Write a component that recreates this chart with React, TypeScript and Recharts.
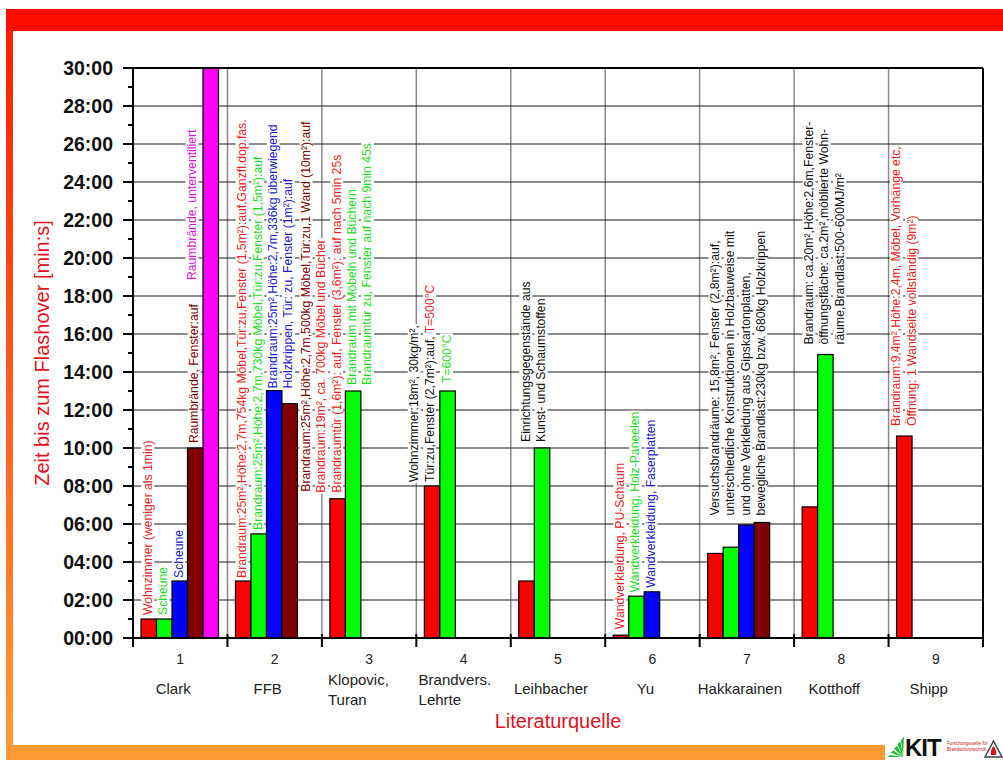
import React from 'react';
import { BarChart, Bar, XAxis, YAxis, CartesianGrid, ReferenceLine } from 'recharts';

// Flashover-Zeiten je Literaturquelle (Minuten)
const categories = ['1', '2', '3', '4', '5', '6', '7', '8', '9'];
const sources = [
  ['Clark'],
  ['FFB'],
  ['Klopovic,', 'Turan'],
  ['Brandvers.', 'Lehrte'],
  ['Leihbacher'],
  ['Yu'],
  ['Hakkarainen'],
  ['Kotthoff'],
  ['Shipp'],
];
const redValues = [1, 3, 7.33, 8, 3, 0.15, 4.45, 6.9, 10.63];
const greenValues = [1, 5.48, 13, 13, 10, 2.2, 4.78, 14.92, null];
const blueValues = [3, 13.02, null, null, null, 2.43, 5.95, null, null];
const maroonValues = [10, 12.33, null, null, null, null, 6.08, null, null];
const magentaValues = [30, null, null, null, null, null, null, null, null];
const yTicks = [0, 1, 2, 3, 4, 5, 6, 7, 8, 9, 10, 11, 12, 13, 14, 15, 16, 17, 18, 19, 20, 21, 22, 23, 24, 25, 26, 27, 28, 29, 30];
const gridValues = [0, 2, 4, 6, 8, 10, 12, 14, 16, 18, 20, 22, 24, 26, 28, 30];

const seriesKeys = ['red', 'green', 'blue', 'maroon', 'magenta'];
const seriesColors: Record<string, string> = {
  red: '#ff0000',
  green: '#00ff00',
  blue: '#0000ff',
  maroon: '#800000',
  magenta: '#ff00ff',
};
const textColors: Record<string, string> = {
  r: '#ee1c24',
  g: '#1fdc1f',
  b: '#1a1ad0',
  m: '#800000',
  p: '#e010e0',
  k: '#111111',
};

// annotation texts: category index, anchor series, lines of [colour, text] segments
const notes = [
  { cat: 0, key: 'red', lines: [[['r', 'Wohnzimmer (weniger als 1min)']]] },
  { cat: 0, key: 'green', lines: [[['g', 'Scheune']]] },
  { cat: 0, key: 'blue', lines: [[['b', 'Scheune']]] },
  { cat: 0, key: 'maroon', lines: [[['m', 'Raumbrände, Fenster:auf']]] },
  { cat: 0, key: 'magenta', lines: [[['p', 'Raumbrände, unterventiliert']]] },
  { cat: 1, key: 'red', lines: [[['r', 'Brandraum:25m²,Höhe:2,7m,754kg Möbel,Tür:zu,Fenster (1,5m²):auf,Ganzfl.dop.fas.']]] },
  { cat: 1, key: 'green', lines: [[['g', 'Brandraum:25m²,Höhe:2,7m,730kg Möbel,Tür:zu,Fenster (1,5m²):auf']]] },
  {
    cat: 1,
    key: 'blue',
    lines: [[['b', 'Brandraum:25m²,Höhe:2,7m,336kg überwiegend']], [['b', 'Holzkrippen, Tür: zu, Fenster (1m²):auf']]],
  },
  { cat: 1, key: 'maroon', lines: [[['m', 'Brandraum:25m²,Höhe:2,7m,500kg Möbel,Tür:zu,1 Wand (10m²):auf']]] },
  {
    cat: 2,
    key: 'red',
    lines: [
      [['r', 'Brandraum:19m², ca. 700kg Möbel und Bücher']],
      [['r', 'Brandraumtür (1,6m²): auf, Fenster (3,6m²): auf nach 5min 25s']],
    ],
  },
  {
    cat: 2,
    key: 'green',
    lines: [[['g', 'Brandraum mit Möbeln und Büchern']], [['g', 'Brandraumtür zu, Fenster auf nach 9min 45s']]],
  },
  {
    cat: 3,
    key: 'red',
    lines: [[['k', 'Wohnzimmer:18m², 30kg/m²,']], [['k', 'Tür:zu,Fenster (2,7m²):auf, '], ['r', 'T=500°C']]],
  },
  { cat: 3, key: 'green', lines: [[['g', 'T=600°C']]] },
  { cat: 4, key: 'green', lines: [[['k', 'Einrichtungsgegenstände aus']], [['k', 'Kunst- und Schaumstoffen']]] },
  { cat: 5, key: 'red', lines: [[['r', 'Wandverkleidung, PU-Schaum']]] },
  { cat: 5, key: 'green', lines: [[['g', 'Wandverkleidung, Holz-Paneelen']]] },
  { cat: 5, key: 'blue', lines: [[['b', 'Wandverkleidung, Faserplatten']]] },
  {
    cat: 6,
    key: 'maroon',
    lines: [
      [['k', 'Versuchsbrandräume: 15,8m², Fenster (2,8m²):auf,']],
      [['k', 'unterschiedliche Konstruktionen in Holzbauweise mit']],
      [['k', 'und ohne Verkleidung aus Gipskartonplatten,']],
      [['k', 'bewegliche Brandlast:230kg bzw. 680kg Holzkrippen']],
    ],
  },
  {
    cat: 7,
    key: 'green',
    lines: [
      [['k', 'Brandraum: ca.20m²,Höhe:2,6m,Fenster-']],
      [['k', 'öffnungsfläche: ca.2m²,möblierte Wohn-']],
      [['k', 'räume,Brandlast:500-600MJ/m²']],
    ],
  },
  {
    cat: 8,
    key: 'red',
    lines: [[['r', 'Brandraum:9,4m²,Höhe:2,4m, Möbel, Vorhänge etc,']], [['r', 'Öffnung: 1 Wandseite vollständig (9m²)']]],
  },
];

// placement of each annotation: [shift in text lines, gap above bar top in px]
const notePlacement: Record<string, [number, number]> = {
  '0-red': [0, 4],
  '0-green': [0, 4],
  '0-blue': [0, 3],
  '0-maroon': [0, 5],
  '0-magenta': [-1.16, -212],
  '1-red': [0, 3],
  '1-green': [0, 4],
  '1-blue': [0, 2],
  '1-maroon': [1.13, -88],
  '2-red': [-1, 6],
  '2-green': [0, 6],
  '3-red': [-1.1, 4],
  '3-green': [0, 8],
  '4-green': [-1, 6],
  '5-red': [0, 6],
  '5-green': [0, 4],
  '5-blue': [0, 4],
  '6-maroon': [-3, 7],
  '7-green': [-1, 10],
  '8-red': [-0.45, 10],
};

const FONT = "Arial, 'Liberation Sans', sans-serif";
const NOTE_SIZE = 12.2;
const LINE_STEP = 15.3;
const TITLE_RED = '#e3101f';

const data = categories.map((cat, i) => ({
  cat,
  red: redValues[i],
  green: greenValues[i],
  blue: blueValues[i],
  maroon: maroonValues[i],
  magenta: magentaValues[i],
}));

const noteMap: Record<string, any> = {};
notes.forEach((n) => {
  noteMap[`${n.cat}-${n.key}`] = n;
});

// text width, for the white box the slide draws behind each annotation line
let measureCtx: CanvasRenderingContext2D | null = null;
const textWidth = (s: string) => {
  if (!measureCtx) {
    measureCtx = document.createElement('canvas').getContext('2d');
  }
  if (!measureCtx) return s.length * NOTE_SIZE * 0.5;
  measureCtx.font = `${NOTE_SIZE}px Arial, 'Liberation Sans', sans-serif`;
  return measureCtx.measureText(s).width;
};

const renderNote = (id: string, cx: number, top: number) => {
  const note = noteMap[id];
  if (!note) return null;
  const [shift, gap] = notePlacement[id] || [0, 4];
  const base = top - gap;
  return note.lines.map((segs: string[][], i: number) => {
    const w = textWidth(segs.map((s) => s[1]).join(''));
    return (
      <g key={i} transform={`translate(${cx - 1 + (shift + i) * LINE_STEP},${base}) rotate(-90)`}>
        <rect x={-1} y={-6.5} width={w + 2} height={13} fill="#ffffff" />
        <text fontSize={NOTE_SIZE} fontFamily={FONT} dominantBaseline="central">
          {segs.map(([c, t], j) => (
            <tspan key={j} fill={textColors[c]}>
              {t}
            </tspan>
          ))}
        </text>
      </g>
    );
  });
};

// custom bar: rectangle plus the annotation anchored on it
const makeShape = (key: string) => (props: any) => {
  const { x, y, width, height, payload } = props;
  if (!payload || payload[key] == null) return <g />;
  const cat = categories.indexOf(payload.cat);
  return (
    <g>
      <rect x={x} y={y} width={width} height={height} fill={seriesColors[key]} stroke="#000" strokeWidth={1.2} />
      {renderNote(`${cat}-${key}`, x + width / 2, y)}
    </g>
  );
};

const formatMinutes = (v: number) => `${String(v).padStart(2, '0')}:00`;

const YTick = (props: any) => {
  const { x, y, payload } = props;
  const v = payload.value;
  const major = v % 2 === 0;
  return (
    <g>
      <line x1={x - (major ? 10 : 5)} x2={x} y1={y} y2={y} stroke="#000" strokeWidth={2} />
      {major && (
        <text
          x={x - 20}
          y={y}
          textAnchor="end"
          dominantBaseline="central"
          fontFamily={FONT}
          fontWeight="bold"
          fontSize={19.5}
          fill="#111"
        >
          {formatMinutes(v)}
        </text>
      )}
    </g>
  );
};

const XTick = (props: any) => {
  const { x, y, payload, index, width } = props;
  const half = (width || 850) / categories.length / 2;
  const name = sources[index] || [];
  const isLast = index === categories.length - 1;
  const longest = Math.max(...name.map((s) => s.length));
  return (
    <g>
      <line x1={x - half} x2={x - half} y1={y - 4} y2={y + 9} stroke="#000" strokeWidth={2} />
      {isLast && <line x1={x + half} x2={x + half} y1={y - 4} y2={y + 9} stroke="#000" strokeWidth={2} />}
      <text x={x} y={y + 21} textAnchor="middle" dominantBaseline="central" fontFamily={FONT} fontSize={14} fill="#222">
        {payload.value}
      </text>
      {name.length === 1 ? (
        <text x={x - 7} y={y + 50} textAnchor="middle" dominantBaseline="central" fontFamily={FONT} fontSize={15} fill="#222">
          {name[0]}
        </text>
      ) : (
        name.map((line, i) => (
          <text
            key={i}
            x={x - 6 - longest * 0.26 * 15}
            y={y + 41 + i * 20}
            dominantBaseline="central"
            fontFamily={FONT}
            fontSize={15}
            fill="#222"
          >
            {line}
          </text>
        ))
      )}
    </g>
  );
};

// category separators at the band edges
const separatorGenerator = (props: any) => {
  const { offset, width } = props;
  const plotW = offset.width ?? width - offset.left - offset.right;
  return categories.slice(1).map((_, i) => offset.left + ((i + 1) * plotW) / categories.length);
};

const KitLogo = () => (
  <svg width={118} height={27} style={{ position: 'absolute', left: 885, top: 733 }}>
    {[0, 1, 2, 3, 4].map((i) => (
      <path
        key={i}
        d={`M18 24 L${2 + i * 3.5} ${24 - i * 4.2} L${5 + i * 3.5} ${22 - i * 4.6} Z`}
        fill="#1fbf3a"
      />
    ))}
    <text x={20} y={23} fontFamily={FONT} fontWeight="bold" fontSize={24} fill="#111" letterSpacing={-1}>
      KIT
    </text>
    <text x={62} y={12} fontFamily={FONT} fontSize={4.5} fill="#d01020">
      Forschungsstelle für
    </text>
    <text x={62} y={18} fontFamily={FONT} fontSize={4.5} fill="#d01020">
      Brandschutztechnik
    </text>
    <path d="M100 24 L108.5 8 L117 24 Z" fill="#fff" stroke="#444" strokeWidth={1.5} />
    <path d="M106 22 Q105 17 108.5 13 Q112 17 111 22 Z" fill="#e01010" />
  </svg>
);

const App: React.FC = () => {
  return (
    <div
      style={{
        position: 'absolute',
        left: 0,
        top: 0,
        width: 1003,
        height: 760,
        background: '#ffffff',
        overflow: 'hidden',
      }}
    >
      <div style={{ position: 'absolute', left: 6, top: 9, width: 997, height: 22, background: '#ff0e00' }} />
      <div
        style={{
          position: 'absolute',
          left: 6,
          top: 31,
          width: 7,
          height: 714,
          background: 'linear-gradient(#ff1e00, #ff9a38)',
        }}
      />
      <div style={{ position: 'absolute', left: 6, top: 745, width: 879, height: 15, background: '#ff9933' }} />
      <div style={{ position: 'absolute', left: 0, top: 0 }}>
        <BarChart
          width={1003}
          height={760}
          data={data}
          margin={{ top: 68, right: 20, left: 42, bottom: 30 }}
          barGap={0}
          barSize={15.5}
        >
          <CartesianGrid horizontal={false} vertical verticalCoordinatesGenerator={separatorGenerator} stroke="#8a8a8a" strokeWidth={1.5} />
          <CartesianGrid horizontal vertical={false} horizontalValues={gridValues} stroke="#1a1a1a" strokeWidth={1.2} />
          <ReferenceLine x="9" position="end" stroke="#000" strokeWidth={2} />
          <ReferenceLine y={30} stroke="#000" strokeWidth={2} />
          <XAxis
            dataKey="cat"
            interval={0}
            tickLine={false}
            tickSize={0}
            tickMargin={0}
            height={92}
            axisLine={{ stroke: '#000', strokeWidth: 2 }}
            tick={<XTick />}
            label={{
              value: 'Literaturquelle',
              position: 'insideBottom',
              offset: 2,
              style: { fill: TITLE_RED, fontSize: 20, fontFamily: FONT },
            }}
          />
          <YAxis
            type="number"
            domain={[0, 30]}
            ticks={yTicks}
            interval={0}
            width={91}
            tickLine={false}
            tickSize={0}
            tickMargin={0}
            axisLine={{ stroke: '#000', strokeWidth: 2 }}
            tick={<YTick />}
            label={{
              value: 'Zeit bis zum Flashover [min:s]',
              angle: -90,
              position: 'insideLeft',
              offset: 0,
              style: { textAnchor: 'middle', fill: TITLE_RED, fontSize: 20, fontFamily: FONT },
            }}
          />
          {seriesKeys.map((key) => (
            <Bar key={key} dataKey={key} fill={seriesColors[key]} shape={makeShape(key)} isAnimationActive={false} />
          ))}
        </BarChart>
      </div>
      <KitLogo />
    </div>
  );
};

export default App;
